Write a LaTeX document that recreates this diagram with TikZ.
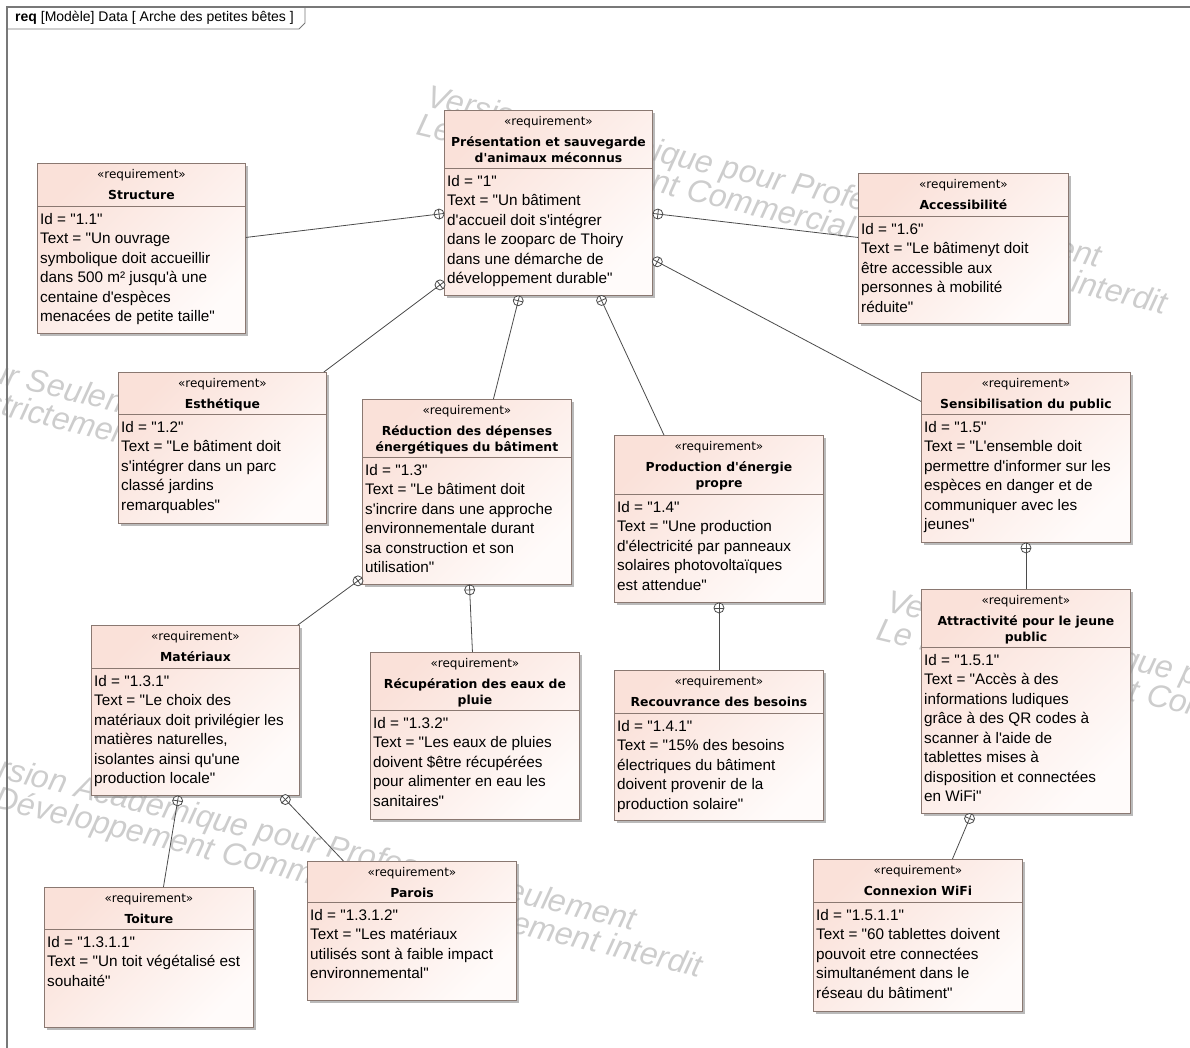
\documentclass[tikz,border=0pt]{standalone}
\usepackage{fontspec}
\setmainfont{Liberation Sans}[Ligatures=TeXOff]
\newfontfamily\headfont{DejaVu Sans}[Ligatures=TeXOff]
\usetikzlibrary{calc,shadows}

\definecolor{reqpink}{RGB}{250,225,217}
\definecolor{reqwhite}{RGB}{255,251,250}
\definecolor{reqborder}{RGB}{138,120,113}
\definecolor{linkgray}{RGB}{75,75,75}
\definecolor{framegray}{RGB}{120,120,120}
\definecolor{wmgray}{RGB}{205,205,205}

\tikzset{
  reqbox/.style={draw=reqborder, line width=0.9pt, top color=reqpink, bottom color=reqwhite,
    shading angle=45, inner sep=0pt, anchor=north west,
    drop shadow={shadow xshift=2.5pt, shadow yshift=-2.5pt, fill=black!45, opacity=0.6}},
  reqsep/.style={draw=reqborder, line width=0.8pt},
  reqhead/.style={anchor=north, inner sep=0pt, align=center,
    font=\headfont\fontsize{12.4}{16}\selectfont\bfseries},
  reqbody/.style={anchor=north west, inner sep=0pt, align=left,
    font=\fontsize{15.3}{19.5}\selectfont},
  link/.style={draw=linkgray, line width=0.8pt},
  wmark/.style={anchor=base west, inner sep=0pt, text=wmgray,
    font=\fontsize{32}{32}\selectfont\itshape},
}

% requirement: name, x, y, width, height, header height, title, body
\newcommand{\reqnode}[8]{%
  \node[reqbox, minimum width=#4pt, minimum height=#5pt] (#1) at (#2,#3) {};
  \draw[reqsep] ([yshift=-#6pt]#1.north west) -- ([yshift=-#6pt]#1.north east);
  \node[reqhead] (#1-head) at (#1.north)
    {{\fontsize{12}{16}\selectfont\mdseries\rule{0pt}{15pt}«requirement»}\\[5pt]#7};
  \node[reqbody] (#1-body) at ([xshift=3pt,yshift=-#6pt]#1.north west) {\rule{0pt}{18pt}#8};
}

% containment link: parent point, child point
\newcommand{\contain}[2]{%
  \coordinate (lkp) at #1;
  \coordinate (lkc) at #2;
  \coordinate (lko) at ($(lkp)!5pt!(lkc)$);
  \draw[link, fill=white] (lko) circle[radius=5pt];
  \draw[link] ($(lko)!5pt!(lkp)$) -- (lkc);
  \draw[link] ($(lko)!5pt!90:(lkc)$) -- ($(lko)!5pt!-90:(lkc)$);
}

\begin{document}
\begin{tikzpicture}[x=1pt, y=-1pt]
  \useasboundingbox (0,0) rectangle (1190,1048);

  % watermark
  \foreach \wx/\wy in {425/106, 885/611, -500/264, -40/769}{
    \begin{scope}[shift={(\wx,\wy)}, rotate=-13.5, transform shape]
      \node[wmark] (wm1) at (0,0) {Version Académique pour Professeur Seulement};
      \node[wmark] (wm2) at (-3,30) {Le Développement Commercial est strictement interdit};
    \end{scope}
  }

  % frame
  \draw[framegray, line width=1.5pt] (7,1060) -- (7,7) -- (1200,7);
  \draw[framegray, line width=0.9pt] (7,29) -- (299,29) -- (305,23) -- (305,7);
  \node[anchor=base west, inner sep=0pt, font=\fontsize{14}{16}\selectfont] (frametitle) at (15,22)
    {\textbf{req} [Modèle] Data [ Arche des petites bêtes ]};

  % requirements
  \reqnode{main}{444}{110}{208}{185}{58}{Présentation et sauvegarde\\d'animaux méconnus}
    {Id = "1"\\Text = "Un bâtiment\\d'accueil doit s'intégrer\\dans le zooparc de Thoiry\\dans une démarche de\\développement durable"}
  \reqnode{struct}{37}{163}{208}{170}{43}{Structure}
    {Id = "1.1"\\Text = "Un ouvrage\\symbolique doit accueillir\\dans 500 m² jusqu'à une\\centaine d'espèces\\menacées de petite taille"}
  \reqnode{access}{858}{173}{210}{150}{43}{Accessibilité}
    {Id = "1.6"\\Text = "Le bâtimenyt doit\\être accessible aux\\personnes à mobilité\\réduite"}
  \reqnode{esth}{118}{372}{208}{151}{42}{Esthétique}
    {Id = "1.2"\\Text = "Le bâtiment doit\\s'intégrer dans un parc\\classé jardins\\remarquables"}
  \reqnode{reduc}{362}{399}{209}{185}{58}{Réduction des dépenses\\énergétiques du bâtiment}
    {Id = "1.3"\\Text = "Le bâtiment doit\\s'incrire dans une approche\\environnementale durant\\sa construction et son\\utilisation"}
  \reqnode{prod}{614}{435}{209}{167}{59}{Production d'énergie\\propre}
    {Id = "1.4"\\Text = "Une production\\d'électricité par panneaux\\solaires photovoltaïques\\est attendue"}
  \reqnode{sensib}{921}{372}{209}{170}{42}{Sensibilisation du public}
    {Id = "1.5"\\Text = "L'ensemble doit\\permettre d'informer sur les\\espèces en danger et de\\communiquer avec les\\jeunes"}
  \reqnode{mater}{91}{625}{208}{170}{43}{Matériaux}
    {Id = "1.3.1"\\Text = "Le choix des\\matériaux doit privilégier les\\matières naturelles,\\isolantes ainsi qu'une\\production locale"}
  \reqnode{recup}{370}{652}{209}{167}{58}{Récupération des eaux de\\pluie}
    {Id = "1.3.2"\\Text = "Les eaux de pluies\\doivent \$être récupérées\\pour alimenter en eau les\\sanitaires"}
  \reqnode{recouv}{614}{670}{209}{150}{43}{Recouvrance des besoins}
    {Id = "1.4.1"\\Text = "15\% des besoins\\électriques du bâtiment\\doivent provenir de la\\production solaire"}
  \reqnode{attract}{921}{589}{209}{224}{58}{Attractivité pour le jeune\\public}
    {Id = "1.5.1"\\Text = "Accès à des\\informations ludiques\\grâce à des QR codes à\\scanner à l'aide de\\tablettes mises à\\disposition et connectées\\en WiFi"}
  \reqnode{toit}{44}{887}{209}{140}{42}{Toiture}
    {Id = "1.3.1.1"\\Text = "Un toit végétalisé est\\souhaité"}
  \reqnode{parois}{307}{861}{209}{139}{41}{Parois}
    {Id = "1.3.1.2"\\Text = "Les matériaux\\utilisés sont à faible impact\\environnemental"}
  \reqnode{wifi}{813}{859}{209}{152}{43}{Connexion WiFi}
    {Id = "1.5.1.1"\\Text = "60 tablettes doivent\\pouvoit etre connectées\\simultanément dans le\\réseau du bâtiment"}

  % containment links
  \contain{([yshift=-10.5pt]main.west)}{([yshift=11pt]struct.east)}
  \contain{([yshift=-10.5pt]main.east)}{([yshift=11pt]access.west)}
  \contain{([yshift=14pt]main.south west)}{([xshift=-3pt]esth.north east)}
  \contain{([xshift=-29pt]main.south)}{([xshift=26.5pt]reduc.north)}
  \contain{([xshift=51pt]main.south)}{([xshift=-55pt]prod.north)}
  \contain{([yshift=-56.5pt]main.east)}{([yshift=56pt]sensib.west)}
  \contain{(sensib.south)}{(attract.north)}
  \contain{([xshift=-54.5pt]attract.south)}{([xshift=34.5pt]wifi.north)}
  \contain{(prod.south)}{(recouv.north)}
  \contain{([yshift=7pt]reduc.south west)}{([xshift=-2pt]mater.north east)}
  \contain{([xshift=2.5pt]reduc.south)}{([xshift=-2.5pt]recup.north)}
  \contain{([xshift=-17pt]mater.south)}{([xshift=14.5pt]toit.north)}
  \contain{([xshift=-18pt]mater.south east)}{([xshift=-68.5pt]parois.north)}
\end{tikzpicture}
\end{document}
